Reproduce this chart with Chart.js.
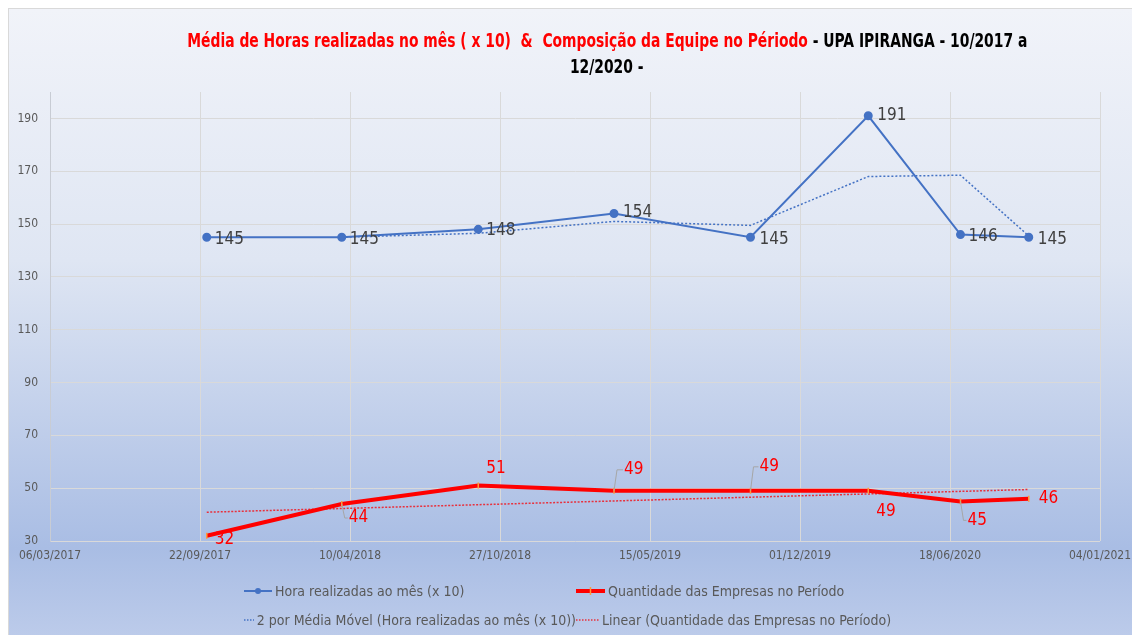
<!DOCTYPE html>
<html>
<head>
<meta charset="utf-8">
<script src="https://cdn.jsdelivr.net/npm/chart.js@4"></script>
<style>
  body { margin: 0; width: 1132px; height: 635px; background: #fff; overflow: hidden; position: relative; }
  #panel {
    position: absolute; left: 8px; top: 8px; width: 1124px; height: 627px;
    border-top: 1px solid #d9d9d9; border-left: 1px solid #d9d9d9;
    background: linear-gradient(to bottom, #f1f3f9 0%, #dfe6f3 40%, #a9bde4 86%, #bccbea 100%);
  }
  #chart { position: absolute; left: 0; top: 0; }
  .tline {
    position: absolute; left: 0; width: 1214px; text-align: center; white-space: nowrap;
    font: bold 20px 'DejaVu Sans Condensed', 'DejaVu Sans', sans-serif; font-stretch: condensed; line-height: 26px; color: #000;
  }
  .tline span.inner { display: inline-block; transform-origin: center center; }
  .tline .red { color: #ff0000; }
  #legend {
    position: absolute; left: 244px; top: 581px;
    display: grid; grid-template-columns: 332px auto; row-gap: 9px;
    font: 14px 'DejaVu Sans Condensed', sans-serif; font-stretch: condensed; color: #595959;
  }
  #legend div { display: flex; align-items: center; height: 20px; white-space: nowrap; }
  #legend svg { margin-right: 3px; }
</style>
</head>
<body>
<div id="panel"></div>
<canvas id="chart" width="1132" height="635"></canvas>
<div class="tline" style="top:27px"><span class="inner" id="t1"><span class="red">Média de Horas realizadas no mês ( x 10)&nbsp; &amp;&nbsp; Composição da Equipe no Périodo</span> - UPA IPIRANGA - 10/2017 a</span></div>
<div class="tline" style="top:53px"><span class="inner" id="t2">12/2020 -</span></div>
<div id="legend"></div>
<script>
// data
var originDate = '2017-03-06';
var dates = ['2017-10-01', '2018-03-30', '2018-09-28', '2019-03-28', '2019-09-26', '2020-03-01', '2020-07-02', '2020-10-01'];
var horas = [145, 145, 148, 154, 145, 191, 146, 145];
var empresas = [32, 44, 51, 49, 49, 49, 45, 46];
var mediaMovel = [null, 145, 146.5, 151, 149.5, 168, 168.5, 145.5];
var linearEmpresas = [40.9, 49.5];   // trend line, first and last date
var yTicks = [30, 50, 70, 90, 110, 130, 150, 170, 190];

var dayMs = 86400000;
function dayOf(s) { return (Date.parse(s) - Date.parse(originDate)) / dayMs; }
function fmtDay(d) {
  var dt = new Date(Date.parse(originDate) + d * dayMs);
  var dd = String(dt.getUTCDate()).padStart(2, '0');
  var mm = String(dt.getUTCMonth() + 1).padStart(2, '0');
  return dd + '/' + mm + '/' + dt.getUTCFullYear();
}
function pts(vals) {
  var out = [];
  vals.forEach(function (v, i) { if (v !== null) out.push({ x: dayOf(dates[i]), y: v }); });
  return out;
}

// label placement: [dx, dy] from the point, text left aligned
var horasLabelPos = [[8, 2], [8, 2], [8, 1], [9, -1], [9, 2], [9, 0], [8, 2], [9, 2]];
var empresasLabelPos = [[8, 4], [7, 14], [8, -17], [10, -21], [9, -24], [8, 21], [7, 19], [10, 0]];
var empresasLeader = [false, true, false, true, true, false, true, false];
var legendMarkerW = [28, 29, 15, 23];

var FONT = "'DejaVu Sans Condensed', 'DejaVu Sans', sans-serif";

var dataLabels = {
  id: 'dataLabels',
  afterDatasetsDraw: function (chart) {
    var ctx = chart.ctx;
    chart.data.datasets.forEach(function (ds, di) {
      if (!ds.labelPos) return;
      var meta = chart.getDatasetMeta(di);
      ctx.save();
      ctx.font = '17px ' + FONT;
      ctx.fillStyle = ds.labelColor;
      ctx.textAlign = 'left';
      ctx.textBaseline = 'middle';
      meta.data.forEach(function (el, i) {
        var p = ds.labelPos[i];
        var tx = el.x + p[0], ty = el.y + p[1];
        if (ds.leader && ds.leader[i]) {
          ctx.save();
          ctx.strokeStyle = '#a6a6a6';
          ctx.lineWidth = 1;
          ctx.beginPath();
          ctx.moveTo(el.x, el.y);
          ctx.lineTo(el.x + 3, ty);
          ctx.lineTo(tx - 1, ty);
          ctx.stroke();
          ctx.restore();
        }
        ctx.fillText(String(ds.data[i].y), tx, ty);
      });
      ctx.restore();
    });
  }
};

var chart = new Chart(document.getElementById('chart'), {
  type: 'line',
  data: {
    datasets: [{
      label: 'Hora realizadas ao mês (x 10)',
      data: pts(horas),
      borderColor: '#4472c4',
      backgroundColor: '#4472c4',
      borderWidth: 2,
      pointRadius: 3.5,
      labelPos: horasLabelPos,
      labelColor: '#404040',
      order: 1
    }, {
      label: 'Quantidade das Empresas no Período',
      data: pts(empresas),
      borderColor: '#ff0000',
      backgroundColor: '#ff0000',
      borderWidth: 4,
      pointStyle: 'line',
      rotation: 90,
      pointRadius: 3,
      pointBorderColor: '#ff9a3c',
      pointBorderWidth: 1.5,
      labelPos: empresasLabelPos,
      leader: empresasLeader,
      labelColor: '#ff0000',
      order: 0
    }, {
      label: '2 por Média Móvel (Hora realizadas ao mês (x 10))',
      data: pts(mediaMovel),
      borderColor: '#4472c4',
      borderWidth: 1.5,
      borderDash: [2, 2],
      pointRadius: 0,
      order: 2
    }, {
      label: 'Linear (Quantidade das Empresas no Período)',
      data: [{ x: dayOf(dates[0]), y: linearEmpresas[0] }, { x: dayOf(dates[dates.length - 1]), y: linearEmpresas[1] }],
      borderColor: '#e8303c',
      borderWidth: 1.5,
      borderDash: [2, 1.5],
      pointRadius: 0,
      order: 3
    }]
  },
  options: {
    responsive: false,
    devicePixelRatio: 1,
    animation: false,
    layout: { padding: { left: 0, right: 32, top: 92, bottom: 0 } },
    plugins: { legend: { display: false }, title: { display: false }, tooltip: { enabled: false } },
    scales: {
      x: {
        type: 'linear',
        min: 0,
        max: 1400,
        afterFit: function (s) { s.height = 94; s.paddingLeft = 0; s.paddingRight = 0; },
        ticks: {
          stepSize: 200,
          padding: 8,
          color: '#595959',
          font: { family: FONT, size: 12 },
          maxRotation: 0,
          callback: function (v) { return fmtDay(v); }
        },
        grid: { color: '#d9d9d9', drawTicks: false },
        border: { display: false }
      },
      y: {
        min: 30,
        max: 200,
        afterFit: function (s) { s.width = 50; s.paddingTop = 0; s.paddingBottom = 0; },
        afterBuildTicks: function (s) { s.ticks = yTicks.map(function (v) { return { value: v }; }); },
        ticks: {
          padding: 12,
          color: '#595959',
          font: { family: FONT, size: 12 }
        },
        grid: { color: '#d9d9d9', drawTicks: false },
        border: { display: true, color: '#c8ccd4' }
      }
    }
  },
  plugins: [dataLabels]
});

// legend built from the datasets, 2 x 2 like the original
function marker(ds, w) {
  var dotted = !!ds.borderDash;
  var s = '<svg width="' + w + '" height="12">';
  s += '<line x1="0" y1="6" x2="' + w + '" y2="6" stroke="' + ds.borderColor + '" stroke-width="' + ds.borderWidth + '"' +
       (dotted ? ' stroke-dasharray="1.5,1.5"' : '') + '/>';
  if (!dotted && ds.pointStyle === 'line') {
    s += '<line x1="' + w / 2 + '" y1="2" x2="' + w / 2 + '" y2="10" stroke="' + ds.pointBorderColor + '" stroke-width="1.5"/>';
  } else if (!dotted) {
    s += '<circle cx="' + w / 2 + '" cy="6" r="3" fill="' + ds.backgroundColor + '"/>';
  }
  return s + '</svg>';
}
var legendEl = document.getElementById('legend');
chart.data.datasets.forEach(function (ds, i) {
  var item = document.createElement('div');
  item.innerHTML = marker(ds, legendMarkerW[i]) + '<span>' + ds.label + '</span>';
  legendEl.appendChild(item);
});

// squeeze the title to the width of the original (narrow font not installed)
var t1 = document.getElementById('t1'), t2 = document.getElementById('t2');
var k = 840 / t1.getBoundingClientRect().width;
t1.style.transform = 'scaleX(' + k + ')';
t2.style.transform = 'scaleX(' + k + ')';
</script>
</body>
</html>
